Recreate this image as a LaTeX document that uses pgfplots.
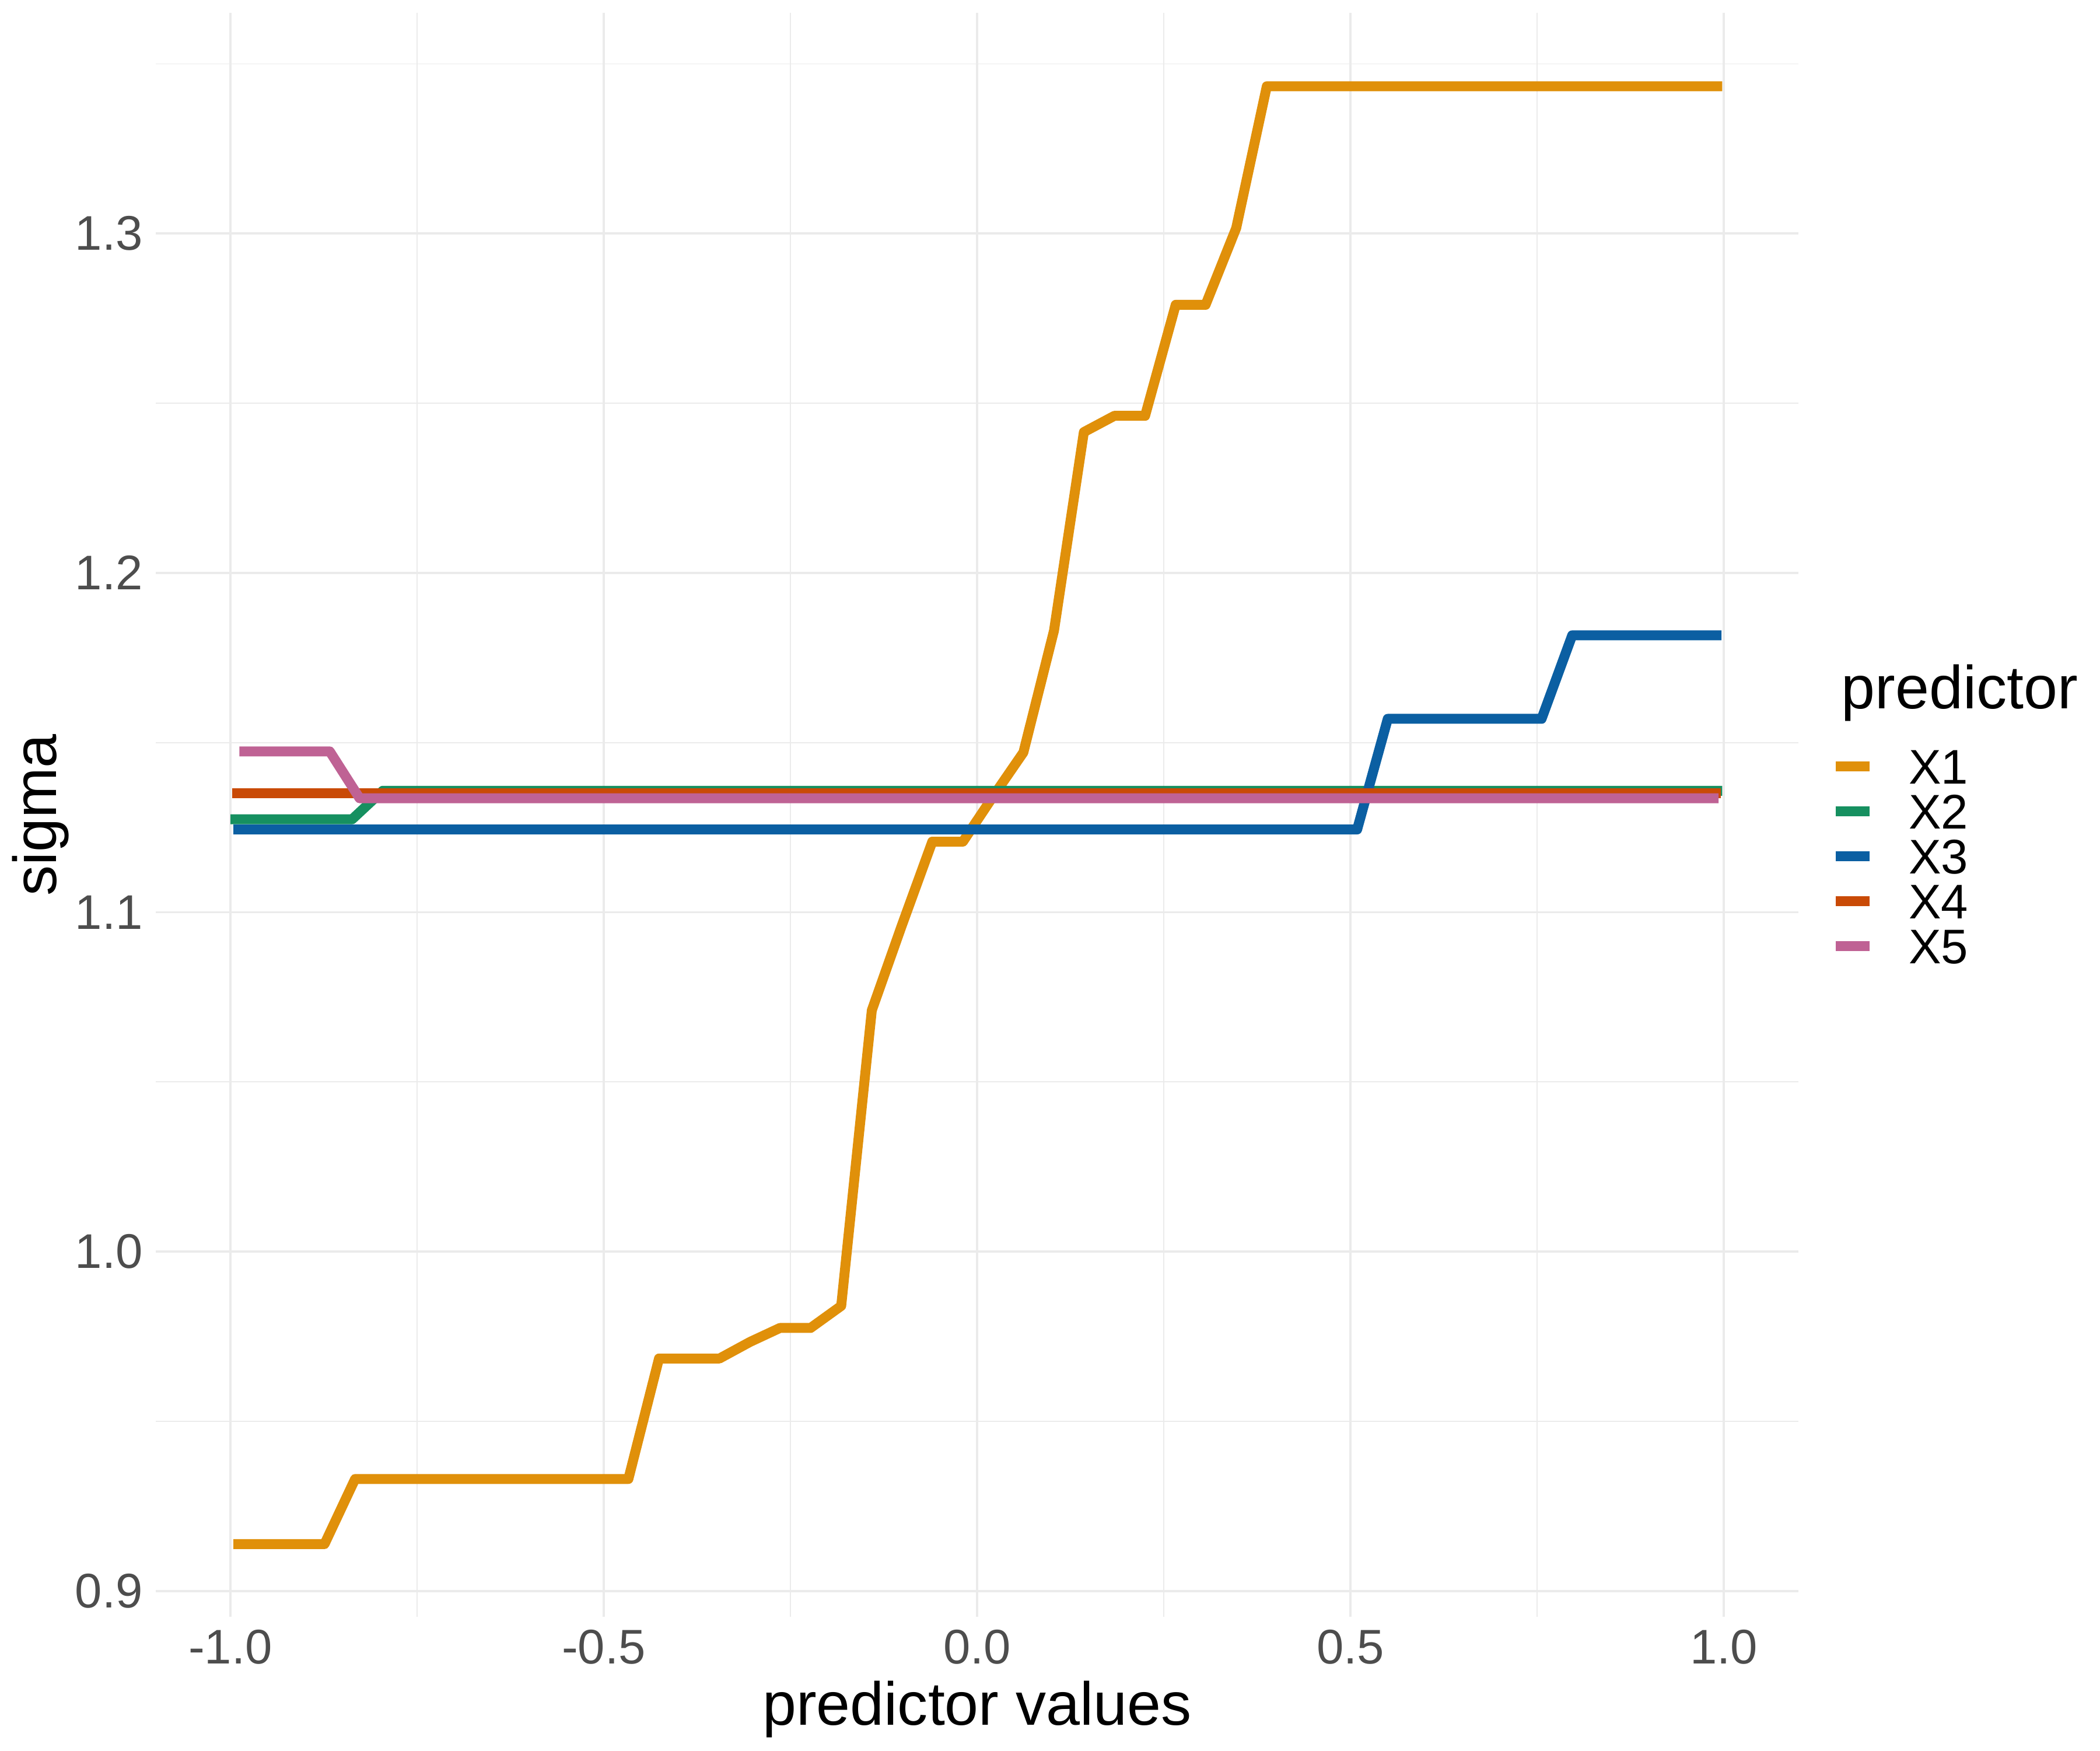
\documentclass[border=0pt]{standalone}
\usepackage{pgfplots}
\pgfplotsset{compat=1.18}
\usepackage{fontspec}
\setmainfont{Liberation Sans}
\definecolor{cX1}{HTML}{E0900A}
\definecolor{cX2}{HTML}{169060}
\definecolor{cX3}{HTML}{0B5FA2}
\definecolor{cX4}{HTML}{C94A06}
\definecolor{cX5}{HTML}{BF6294}
\definecolor{gridc}{HTML}{EBEBEB}
\definecolor{tickc}{HTML}{4D4D4D}
\begin{document}
\begin{tikzpicture}
\path[use as bounding box] (-38.45pt,-32.92pt) rectangle (479.95pt,399.08pt);
\begin{axis}[
  scale only axis,
  width=405.5pt, height=395.84pt,
  at={(0pt,0pt)}, anchor=south west,
  xmin=-1.1, xmax=1.1, ymin=0.89231, ymax=1.36496,
  axis line style={draw=none},
  major tick length=0pt, minor tick length=0pt,
  xtick={-1,-0.5,0,0.5,1},
  xticklabels={{-1.0},{-0.5},{0.0},{0.5},{1.0}},
  ytick={0.9,1.0,1.1,1.2,1.3},
  yticklabels={{0.9},{1.0},{1.1},{1.2},{1.3}},
  minor xtick={-0.75,-0.25,0.25,0.75},
  minor ytick={0.95,1.05,1.15,1.25,1.35},
  grid=both,
  major grid style={draw=gridc, line width=0.53pt},
  minor grid style={draw=gridc, line width=0.27pt},
  xticklabel style={anchor=north, inner sep=0pt, yshift=-2.92pt, font=\fontsize{12}{14}\selectfont, text=tickc},
  yticklabel style={anchor=east, inner sep=0pt, xshift=-3pt, font=\fontsize{12}{14}\selectfont, text=tickc},
  every axis plot/.append style={line width=2.45pt, line join=round, line cap=butt},
  legend style={at={(rel axis cs:1.01973,0.54126)}, anchor=north west, draw=none, fill=none,
    inner sep=0pt, outer sep=0pt, row sep=2.5pt, column sep=0pt,
    /tikz/every odd column/.style={column sep=8.45pt},
    font=\fontsize{12}{14}\selectfont,
    nodes={inner sep=0pt, text height=8.6pt, text depth=0pt}},
  legend cell align=left,
  legend image code/.code={\draw[#1, line width=2.45pt, line cap=butt] (0pt,0pt) -- (8.35pt,0pt);},
]
\addplot[cX1] table {
x y
-0.996 0.9138
-0.874 0.9138
-0.833 0.9330
-0.467 0.9330
-0.426 0.9685
-0.345 0.9685
-0.304 0.9734
-0.264 0.9775
-0.223 0.9775
-0.182 0.9840
-0.141 1.0711
-0.101 1.0960
-0.060 1.1208
-0.019 1.1208
0.021 1.1340
0.062 1.1471
0.103 1.1830
0.143 1.2415
0.184 1.2463
0.225 1.2463
0.266 1.2790
0.306 1.2790
0.347 1.3016
0.388 1.3434
0.998 1.3434
};
\addlegendentry{X1}
\addplot[cX2] table {
x y
-1.000 1.1274
-0.837 1.1274
-0.796 1.1358
0.998 1.1358
};
\addlegendentry{X2}
\addplot[cX3] table {
x y
-0.996 1.1244
0.509 1.1244
0.550 1.1570
0.756 1.1570
0.797 1.1816
0.997 1.1816
};
\addlegendentry{X3}
\addplot[cX4] table {
x y
-0.998 1.1350
0.996 1.1350
};
\addlegendentry{X4}
\addplot[cX5] table {
x y
-0.988 1.1474
-0.867 1.1474
-0.827 1.1336
0.993 1.1336
};
\addlegendentry{X5}
\end{axis}
\node[anchor=base, inner sep=0pt, font=\fontsize{15}{18}\selectfont] at (202.75pt,-26.58pt) {predictor values};
\node[anchor=base, rotate=90, inner sep=0pt, font=\fontsize{15}{18}\selectfont] at (-24.52pt,197.92pt) {sigma};
\node[anchor=base west, inner sep=0pt, font=\fontsize{15}{18}\selectfont] at (415.9pt,224.15pt) {predictor};
\end{tikzpicture}
\end{document}
